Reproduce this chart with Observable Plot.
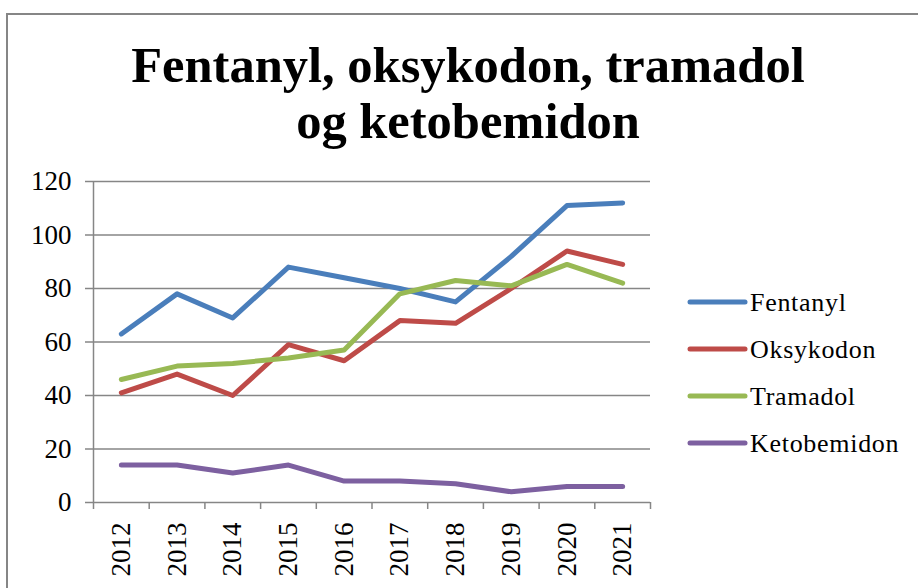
<!DOCTYPE html>
<html><head><meta charset="utf-8">
<script src="https://cdn.jsdelivr.net/npm/d3@7"></script>
<script src="https://cdn.jsdelivr.net/npm/@observablehq/plot@0.6"></script>
<style>
body{margin:0;background:#fff;}
#wrap{position:relative;width:918px;height:588px;overflow:hidden;font-family:"Liberation Serif",serif;background:#fff;}
#frame{position:absolute;left:6px;top:13px;width:1000px;height:1000px;border-top:2px solid #868686;border-left:2px solid #868686;}
#title{position:absolute;left:0;top:37px;width:936px;text-align:center;font-family:"Liberation Serif",serif;font-weight:bold;font-size:50.5px;line-height:56px;color:#000;}
#chart{position:absolute;left:0;top:0;}
#legend{position:absolute;left:0;top:0;}
</style></head><body>
<div id="wrap">
<div id="frame"></div>
<div id="title">Fentanyl, oksykodon, tramadol<br>og ketobemidon</div>
<div id="chart"></div>
<svg id="legend" width="918" height="588"></svg>
</div>
<script>
const years = [2012, 2013, 2014, 2015, 2016, 2017, 2018, 2019, 2020, 2021];
const fentanyl = [63, 78, 69, 88, 84, 80, 75, 92, 111, 112];
const oksykodon = [41, 48, 40, 59, 53, 68, 67, 80, 94, 89];
const tramadol = [46, 51, 52, 54, 57, 78, 83, 81, 89, 82];
const ketobemidon = [14, 14, 11, 14, 8, 8, 7, 4, 6, 6];
const seriesNames = ["Fentanyl", "Oksykodon", "Tramadol", "Ketobemidon"];
const seriesColors = ["#4a7ebb", "#be4b48", "#98b954", "#7d60a0"];
const yTicks = [0, 20, 40, 60, 80, 100, 120];

const seriesValues = [fentanyl, oksykodon, tramadol, ketobemidon];
const data = [];
seriesNames.forEach((name, i) => {
  years.forEach((yr, j) => data.push({series: name, year: yr, value: seriesValues[i][j]}));
});
const boundaries = [...years.map(y => y - 0.5), years[years.length - 1] + 0.5];
const grey = "#868686";

const chart = Plot.plot({
  width: 918, height: 588,
  marginLeft: 93, marginRight: 268, marginTop: 181, marginBottom: 86,
  x: {type: "linear", domain: [boundaries[0], boundaries[boundaries.length - 1]]},
  y: {domain: [0, 120]},
  color: {domain: seriesNames, range: seriesColors},
  style: {fontFamily: "'Liberation Serif', serif", background: "transparent", color: "#000"},
  marks: [
    Plot.ruleY(yTicks.filter(d => d > 0), {stroke: grey, strokeWidth: 1.5}),
    Plot.axisY({ticks: yTicks, tickSize: 8, tickPadding: 14, stroke: grey, strokeWidth: 1.5, fill: "#000", fontSize: 27, letterSpacing: 2, label: null, tickFormat: d => String(d)}),
    Plot.axisX({ticks: boundaries, tickSize: 7, tickFormat: () => "", stroke: grey, strokeWidth: 1.5, label: null}),
    Plot.axisX({ticks: years, tickSize: 0, tickPadding: 20, tickRotate: -90, tickFormat: d => String(d), fill: "#000", fontSize: 27, label: null}),
    Plot.ruleX([boundaries[0]], {stroke: grey, strokeWidth: 1.5}),
    Plot.ruleY([0], {stroke: grey, strokeWidth: 1.5}),
    Plot.line(data, {x: "year", y: "value", z: "series", stroke: "series", strokeWidth: 5, strokeLinecap: "round", strokeLinejoin: "round"})
  ]
});
document.getElementById("chart").appendChild(chart);

const leg = d3.select("#legend");
seriesNames.forEach((name, i) => {
  const cy = 302 + i * 47;
  leg.append("line").attr("x1", 690).attr("x2", 745).attr("y1", cy).attr("y2", cy)
    .attr("stroke", seriesColors[i]).attr("stroke-width", 5).attr("stroke-linecap", "round");
  leg.append("text").attr("x", 750).attr("y", cy + 9).text(name)
    .attr("font-family", "'Liberation Serif', serif").attr("font-size", 26)
    .attr("letter-spacing", "0.7px").attr("fill", "#000");
});
</script>
</body></html>
